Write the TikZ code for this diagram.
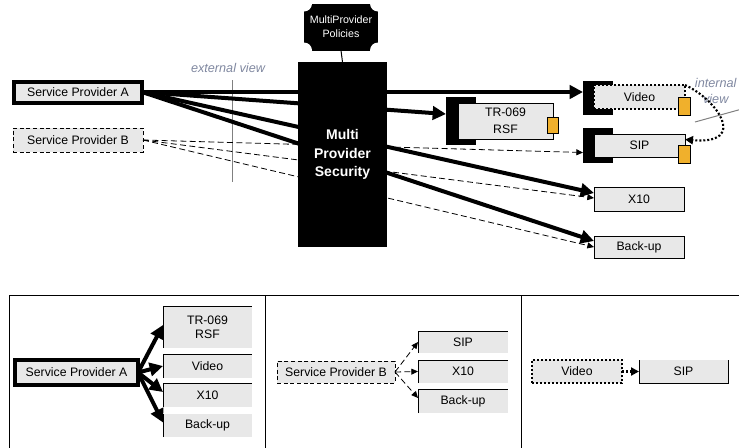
\documentclass[tikz,border=0pt]{standalone}
\usepackage{fontspec}
\setmainfont{Liberation Sans}
\usetikzlibrary{arrows.meta}
\definecolor{boxgray}{HTML}{E8E8E8}
\definecolor{portorange}{HTML}{F0B02C}
\definecolor{viewgray}{HTML}{8088A0}
\begin{document}
\begin{tikzpicture}[x=0.75pt, y=-0.75pt, line width=0.75pt,
    sz/.style 2 args={minimum width=#1*0.75pt, minimum height=#2*0.75pt},
    box/.style={fill=boxgray, draw, line width=0.75pt, inner sep=0pt, outer sep=0pt, align=center, font=\fontsize{9.2}{12.5}\selectfont},
    flat/.style={fill=boxgray, inner sep=0pt, outer sep=0pt, align=center, font=\fontsize{9.2}{10.5}\selectfont},
    blk/.style={fill=black, inner sep=0pt, outer sep=0pt},
    port/.style={fill=portorange, draw, line width=0.75pt, inner sep=0pt, outer sep=0pt, sz={12}{18}},
    spa/.style={box, line width=3pt},
    spb/.style={box, dash pattern=on 3pt off 2pt},
    vidbox/.style={box, line width=1.6pt, dash pattern=on 1.5pt off 1.5pt},
    pipe/.style={line width=3pt, -{Triangle[length=10pt, width=10pt]}},
    dline/.style={line width=0.6pt, dash pattern=on 4.5pt off 2.5pt, -{Triangle[length=5pt, width=4.5pt]}},
    dotline/.style={line width=1.6pt, dash pattern=on 1.5pt off 1.5pt, -{Triangle[length=6pt, width=6pt]}},
    viewtxt/.style={text=viewgray, inner sep=0pt, font=\fontsize{9.5}{11.5}\selectfont\itshape},
    rule/.style={draw=gray, line width=0.75pt}]
\useasboundingbox (0,0) rectangle (739,447);
\clip (0,0) rectangle (739,447);
\node[spa, sz={128}{21}] (spA) at (78,92) {Service Provider A};
\node[spb, sz={130}{24}] (spB) at (78,140) {Service Provider B};
\node[blk, sz={30}{48}] (trblk) at (461,121) {};
\node[box, sz={95}{36}] (tr) at (505.5,121) {TR-069\\RSF};
\node[port, sz={11}{16}] (trport) at (552.5,125) {};
\node[blk, sz={30}{34}] (vidblk) at (598,98) {};
\node[vidbox, sz={91}{24}] (vid) at (639.5,97) {Video};
\node[port] (vidport) at (684,106.5) {};
\node[blk, sz={30}{35}] (sipblk) at (598,145.5) {};
\node[box, sz={91}{23}] (sip) at (639.5,145.5) {SIP};
\node[port] (sipport) at (684,154) {};
\node[box, sz={90}{24}] (xten) at (639,199) {X10};
\node[box, sz={90}{22}] (backup) at (639,247) {Back-up};
\draw[rule] (232,80) -- (232,182);
\node[viewtxt] (extlbl) at (228,68) {external view};
\node[viewtxt, align=center, anchor=east] (intlbl) at (737,91) {internal\\view};
\draw[rule] (695,122) -- (760,104);
\draw[pipe] (spA.east) -- ([shift={(0,-6)}]vidblk.west);
\draw[pipe] (spA.east) -- ([shift={(0,-7)}]trblk.west);
\draw[pipe] (spA.east) -- ([shift={(0,-6)}]xten.west);
\draw[pipe] (spA.east) -- ([shift={(0,-6)}]backup.west);
\draw[dline] (spB.east) -- ([shift={(0,7)}]sipblk.west);
\draw[dline] (spB.east) -- ([shift={(0,-1)}]xten.west);
\draw[dline] (spB.east) -- (backup.west);
\draw[dotline] (vid.north east) .. controls (718,100) and (748,145) .. ([shift={(0,-6)}]sip.east);
\node[blk, sz={89}{185}, text=white, align=center, font=\bfseries\fontsize{10.5}{14}\selectfont] (sec) at (342.5,154.5) {Multi\\Provider\\Security};
\node[blk, sz={74}{47}, text=white, align=center, font=\fontsize{8}{10.5}\selectfont] (pol) at (341,27) {MultiProvider\\Policies};
\foreach \c in {north west,north east,south west,south east}
    \fill[white] (pol.\c) circle (6pt);
\draw (pol.south) -- (sec.north);
\draw (9,460) |- (760,295);
\draw (265,295) -- (265,460);
\draw (521,295) -- (521,460);
\node[spa, sz={123}{25}] (pA) at (76.5,372.5) {Service Provider A};
\node[flat, sz={89}{42}] (ptr) at (207.5,327) {TR-069\\RSF};
\node[flat, sz={89}{24}] (pvid) at (207.5,366) {Video};
\node[flat, sz={89}{24}] (px) at (207.5,395) {X10};
\node[flat, sz={89}{23}] (pbk) at (207.5,425.5) {Back-up};
\draw[pipe] (pA.east) -- ([shift={(0,-2)}]ptr.west);
\draw[pipe] (pA.east) -- (pvid.west);
\draw[pipe] (pA.east) -- ([shift={(0,-3)}]px.west);
\draw[pipe] (pA.east) -- ([shift={(0,-3)}]pbk.west);
\node[spb, sz={118}{22}] (pB) at (336,372) {Service Provider B};
\node[flat, sz={90}{22}] (psip) at (463,342) {SIP};
\node[flat, sz={90}{23}] (px2) at (463,371.5) {X10};
\node[flat, sz={90}{24}] (pbk2) at (463,401) {Back-up};
\draw[dline] (pB.east) -- (psip.west);
\draw[dline] (pB.east) -- (px2.west);
\draw[dline] (pB.east) -- ([shift={(0,-3)}]pbk2.west);
\foreach \n in {ptr,pvid,px,psip,px2,pbk2}
    \draw (\n.south west) |- (\n.north east);
\draw (pbk.south west) -- (pbk.north west);
\node[vidbox, sz={90}{23}] (pvid3) at (577,371.5) {Video};
\node[flat, sz={89}{23}] (psip3) at (683.5,371.5) {SIP};
\draw (psip3.north west) |- (psip3.south east) -- (psip3.north east);
\draw[dotline] (pvid3.east) -- (psip3.west);
\end{tikzpicture}
\end{document}
